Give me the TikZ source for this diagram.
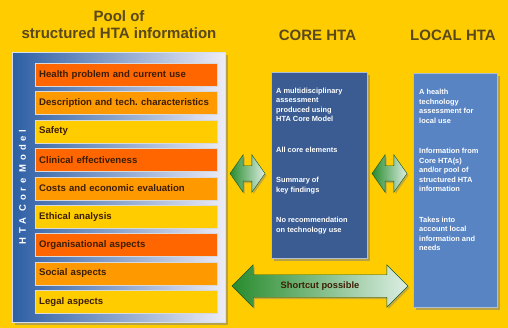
\documentclass[tikz,border=0pt]{standalone}
\usepackage{fontspec}
\setmainfont{Liberation Sans}
\usepackage{tikz}
\usetikzlibrary{shapes.arrows, shadows}

\definecolor{bgyellow}{RGB}{255,204,0}
\definecolor{titlebrown}{RGB}{88,72,28}
\definecolor{hotorange}{RGB}{255,102,0}
\definecolor{midorange}{RGB}{255,153,0}
\definecolor{paleyellow}{RGB}{255,204,0}
\definecolor{labelbrown}{RGB}{60,30,5}
\definecolor{stripblue}{RGB}{45,95,165}
\definecolor{skyblue}{RGB}{150,205,245}
\definecolor{mistwhite}{RGB}{238,236,246}
\definecolor{coreblue}{RGB}{58,92,146}
\definecolor{localblue}{RGB}{88,132,196}
\definecolor{arrowgreen}{RGB}{40,140,45}
\definecolor{arrowpale}{RGB}{220,238,228}

\tikzset{
  heading/.style={text=titlebrown, font=\fontsize{15}{17}\selectfont\bfseries, align=center},
  topicbox/.style={draw=white!70!gray, thin, anchor=north west, minimum width=182pt, minimum height=23pt,
    text width=174pt, align=left, text=labelbrown, font=\fontsize{9.6}{10}\selectfont\bfseries},
  htabox/.style={anchor=north west, draw=white!60!coreblue, thin,
    drop shadow={shadow xshift=2.5pt, shadow yshift=-2.5pt, opacity=.55}},
  boxtext/.style={anchor=north west, inner sep=0pt, text=white, align=left,
    font=\fontsize{7.4}{9.5}\selectfont\bfseries},
  twoway/.style={double arrow, draw=arrowgreen!60!black, thin, left color=arrowgreen, right color=arrowpale,
    drop shadow={shadow xshift=1.5pt, shadow yshift=-2pt, opacity=.45}}
}

\begin{document}
\begin{tikzpicture}[x=1pt, y=-1pt]
    \fill[bgyellow] (0,0) rectangle (508,328);
    \useasboundingbox (0,0) rectangle (508,328);

    % headings
    \node (poolhead) [heading] at (119,25) {Pool of\\structured HTA information};
    \node (corehead) [heading] at (317.5,35) {CORE HTA};
    \node (localhead) [heading] at (453,35) {LOCAL HTA};

    % pool of structured information
    \node (pool) [anchor=north west, draw=white!80!stripblue, minimum width=213pt, minimum height=270pt,
      left color=stripblue, middle color=skyblue, right color=mistwhite,
      drop shadow={shadow xshift=3pt, shadow yshift=-3pt, opacity=.55}] at (12,52) {};
    \node (model) [rotate=90, text=white, font=\fontsize{9.5}{10}\selectfont\bfseries\addfontfeature{LetterSpace=40}]
      at (22.5,187) {HTA Core Model};
    \foreach \txt/\col [count=\i from 0] in {Health problem and current use/hotorange,
        Description and tech.\ characteristics/midorange, Safety/paleyellow,
        Clinical effectiveness/hotorange, Costs and economic evaluation/midorange,
        Ethical analysis/paleyellow, Organisational aspects/hotorange,
        Social aspects/midorange, Legal aspects/paleyellow}
      \node (topic\i) [topicbox, fill=\col] at (35,63+\i*28.4) {\txt};

    % core and local HTA
    \node (core) [htabox, fill=coreblue, minimum width=96pt, minimum height=186pt] at (271,72) {};
    \node (coretext) [boxtext] at (276,87.5) {A multidisciplinary\\assessment\\produced using\\HTA Core Model\\[21pt]
      All core elements\\[21pt]Summary of\\key findings\\[21pt]No recommendation\\on technology use};
    \node (local) [htabox, fill=localblue, minimum width=84pt, minimum height=234pt] at (413,73) {};
    \node (localtext) [boxtext] at (419,89) {A health\\technology\\assessment for\\local use\\[21pt]
      Information from\\Core HTA(s)\\and/or pool of\\structured HTA\\information\\[21pt]
      Takes into\\account local\\information and\\needs};

    % links
    \node (poolcore) [twoway, inner sep=0pt, inner ysep=7.5pt, double arrow head extend=11pt,
      double arrow tip angle=110, minimum height=35pt] at (247.5,173.5) {};
    \node (corelocal) [twoway, inner sep=0pt, inner ysep=7.5pt, double arrow head extend=11pt,
      double arrow tip angle=110, minimum height=35pt] at (389.5,173.5) {};
    \node (shortcut) [twoway, text=labelbrown, font=\fontsize{9.3}{10}\selectfont\bfseries,
      text height=6.5pt, text depth=1.5pt, inner ysep=7pt, double arrow head extend=10pt,
      minimum height=176pt] at (320,286) {Shortcut possible};
\end{tikzpicture}
\end{document}
